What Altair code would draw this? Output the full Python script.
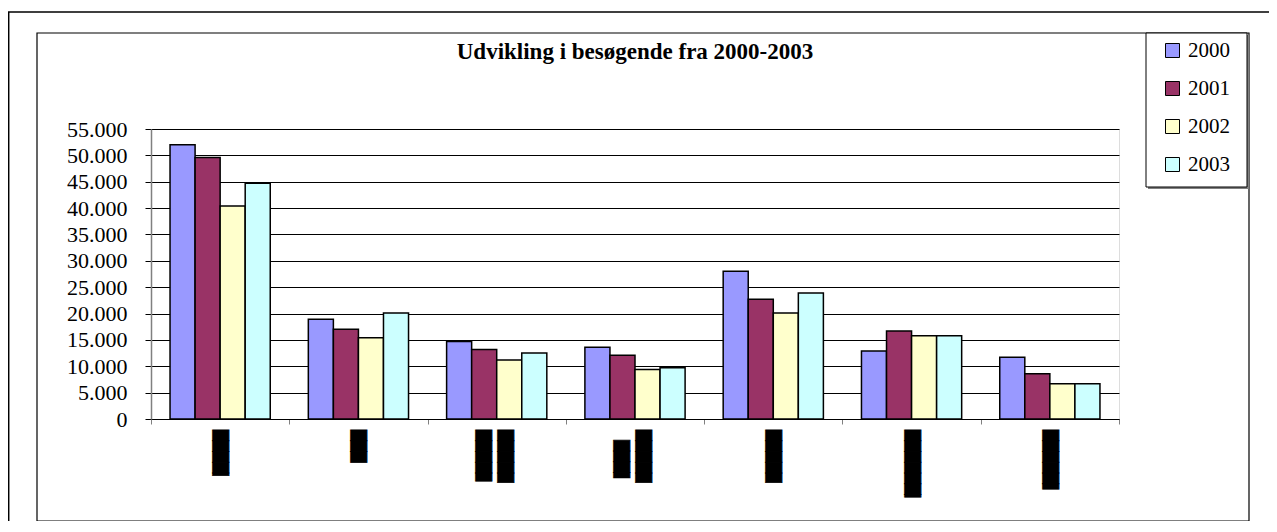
import altair as alt
import pandas as pd

# Category labels (rendered in the source as solid black rotated blocks)
categories = [
    "████▎",
    "███",
    "████▉\n████▊",
    "████▉\n\u2800███▌",
    "████▉",
    "██████▎",
    "█████▌",
]
years = ["2000", "2001", "2002", "2003"]
v2000 = [52000, 18900, 14700, 13600, 28000, 12900, 11700]
v2001 = [49600, 17000, 13200, 12100, 22700, 16700, 8600]
v2002 = [40400, 15400, 11200, 9400, 20100, 15800, 6700]
v2003 = [44700, 20100, 12500, 9700, 23900, 15800, 6700]
colors = ["#9999ff", "#993366", "#ffffcc", "#ccffff"]
y_ticks = [0, 5000, 10000, 15000, 20000, 25000, 30000, 35000, 40000, 45000, 50000, 55000]
title_text = "Udvikling i besøgende fra 2000-2003"

series = [v2000, v2001, v2002, v2003]
rows = []
for yr, vals in zip(years, series):
    for cat, v in zip(categories, vals):
        rows.append({"kategori": cat, "år": yr, "besøgende": v})
df = pd.DataFrame(rows)
labels_df = pd.DataFrame({"kategori": categories})

W, H = 968, 290
one = pd.DataFrame({"a": [0]})

outer = alt.Chart(one).mark_rect(fill="white", fillOpacity=0, stroke="black", strokeWidth=1.5).encode(
    x=alt.value(-142.3), x2=alt.value(1140), y=alt.value(-117), y2=alt.value(420)
)
inner = alt.Chart(one).mark_rect(fill="white", fillOpacity=0, stroke="black", strokeWidth=1.2).encode(
    x=alt.value(-114), x2=alt.value(1098), y=alt.value(-96), y2=alt.value(392)
)
legend_shadow = alt.Chart(one).mark_rect(fill="#808080").encode(
    x=alt.value(997), x2=alt.value(1098), y=alt.value(-94), y2=alt.value(60)
)
legend_box = alt.Chart(one).mark_rect(fill="white", stroke="black", strokeWidth=1).encode(
    x=alt.value(995), x2=alt.value(1096), y=alt.value(-96), y2=alt.value(58)
)

x_enc = alt.X(
    "kategori:N",
    sort=categories,
    scale=alt.Scale(paddingInner=0, paddingOuter=0),
    axis=alt.Axis(
        title=None,
        labels=False,
        tickBand="extent",
        tickColor="#808080",
        tickSize=5,
        domainColor="black",
        domainWidth=1,
        grid=False,
    ),
)

bars = alt.Chart(df).mark_bar(stroke="black", strokeWidth=1.5).encode(
    x=x_enc,
    xOffset=alt.XOffset("år:N", sort=years, scale=alt.Scale(paddingOuter=0.76, paddingInner=0)),
    y=alt.Y(
        "besøgende:Q",
        scale=alt.Scale(domain=[0, 55000], nice=False),
        axis=alt.Axis(
            title=None,
            values=y_ticks,
            labelExpr="replace(format(datum.value, ','), ',', '.')",
            labelFont="Liberation Serif",
            labelFontSize=22,
            labelColor="black",
            labelPadding=18,
            tickColor="black",
            tickSize=6,
            domainColor="#808080",
            domainWidth=1.5,
            grid=True,
            gridColor="black",
            gridWidth=1,
            gridOpacity=1,
        ),
    ),
    color=alt.Color(
        "år:N",
        scale=alt.Scale(domain=years, range=colors),
        legend=alt.Legend(
            title=None,
            orient="none",
            legendX=1011,
            legendY=-89,
            padding=0,
            symbolType="square",
            symbolSize=196,
            symbolStrokeColor="black",
            symbolStrokeWidth=1,
            symbolOpacity=1,
            labelFont="Liberation Serif",
            labelFontSize=21,
            labelColor="black",
            labelOffset=5,
            rowPadding=16,
        ),
    ),
)

label_style = dict(
    font="DejaVu Sans", fontSize=14, color="black", stroke="black", strokeWidth=0.6,
    angle=90, align="left", baseline="middle", lineBreak="\n", lineHeight=22,
)
single_labels = alt.Chart(labels_df).transform_filter(
    "indexof(datum.kategori, '\\n') < 0"
).mark_text(**label_style).encode(
    x=alt.X("kategori:N", sort=categories), text="kategori:N", y=alt.value(H + 11)
)
multi_labels = alt.Chart(labels_df).transform_filter(
    "indexof(datum.kategori, '\\n') >= 0"
).mark_text(dy=-8, **label_style).encode(
    x=alt.X("kategori:N", sort=categories), text="kategori:N", y=alt.value(H + 11)
)

title = alt.Chart(pd.DataFrame({"t": [title_text]})).mark_text(
    font="Liberation Serif", fontSize=23, fontWeight="bold", color="black",
    align="center", baseline="alphabetic",
).encode(text="t:N", x=alt.value(W / 2), y=alt.value(-70))

chart = alt.layer(
    outer, inner, legend_shadow, legend_box, bars, single_labels, multi_labels, title
).properties(
    width=W,
    height=H,
    autosize=alt.AutoSizeParams(type="none"),
    padding={"left": 143, "top": 121, "right": 150, "bottom": 102},
).configure_view(
    fill="#c0c0c0", stroke="#808080", strokeWidth=1.5
).configure(background="white")

chart.save("out.html", embed_options={"renderer": "svg", "actions": False})
